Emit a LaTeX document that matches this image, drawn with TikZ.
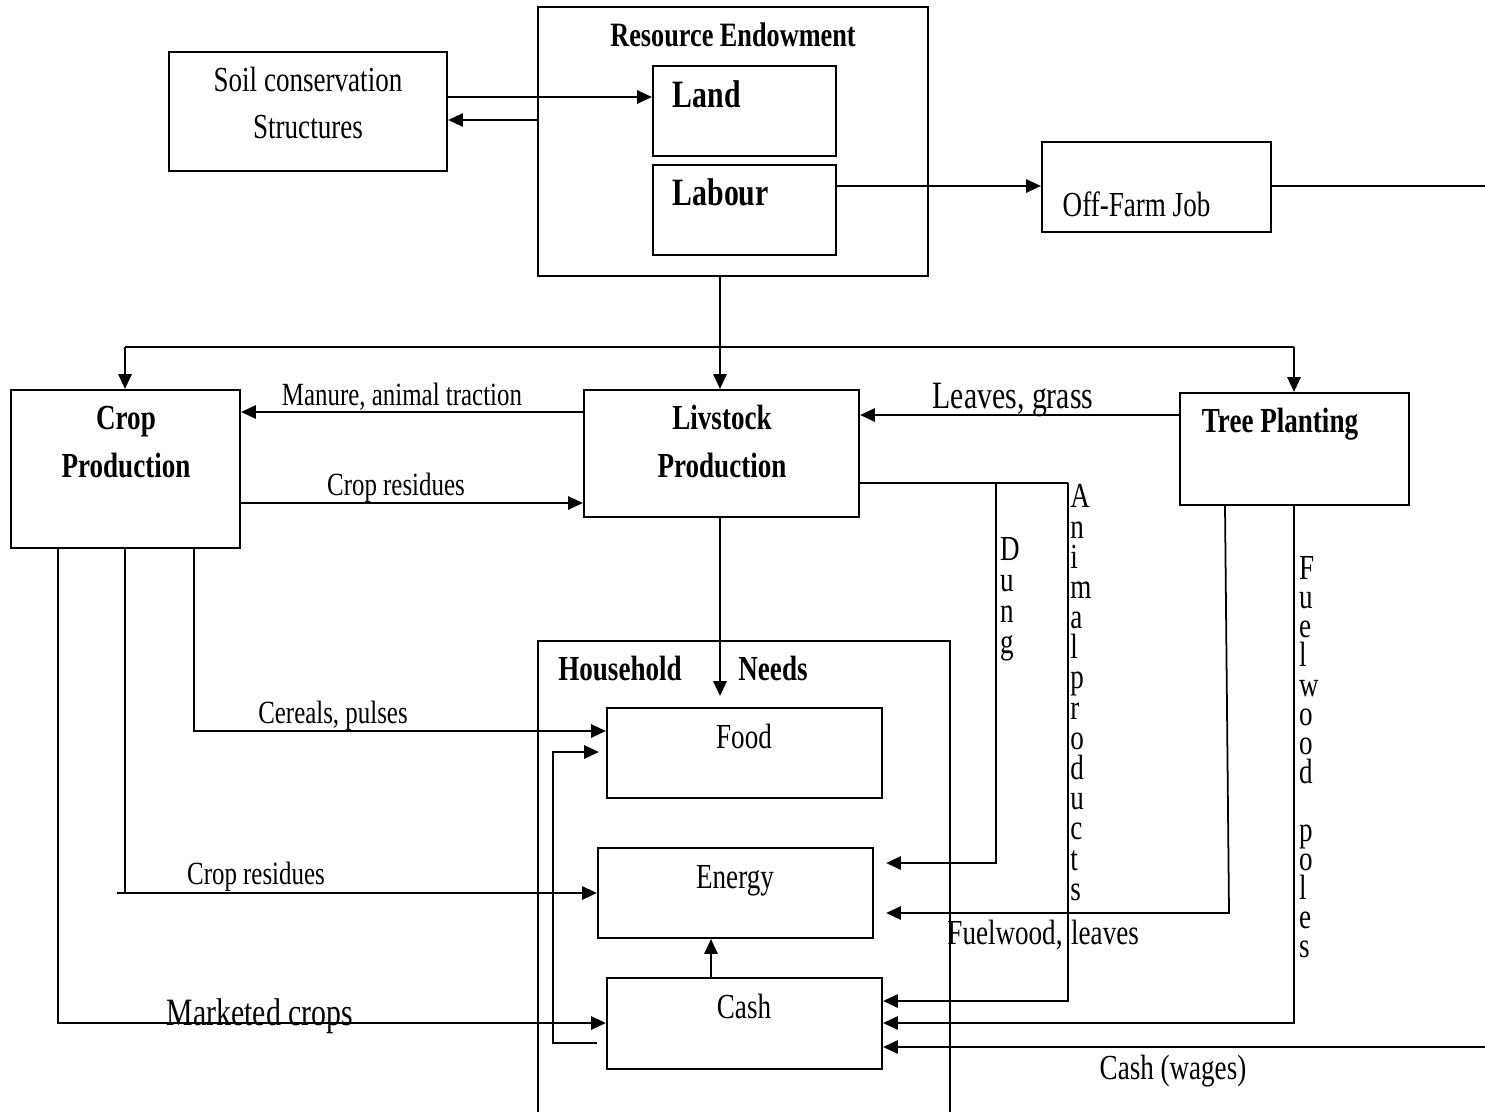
\documentclass[tikz,border=0pt]{standalone}
\usepackage{fontspec}
\setmainfont{Liberation Serif}[FakeStretch=0.77]
\usetikzlibrary{arrows.meta}
\begin{document}
\begin{tikzpicture}[x=0.01cm,y=-0.01cm,
  box/.style={draw,line width=0.6pt,inner sep=0pt},
  arr/.style={line width=0.5pt,-{Triangle[length=4.2pt,width=3.8pt]}},
  ln/.style={line width=0.5pt},
  lab/.style={inner sep=0pt,text height=1.5ex,text depth=0pt,font=\fontsize{10}{12}\selectfont},
  slab/.style={lab,font=\fontsize{9.2}{11}\selectfont},
  blab/.style={lab,font=\fontsize{11}{13}\selectfont},
  bold/.style={lab,font=\fontsize{10}{12}\selectfont\bfseries},
  bbold/.style={lab,font=\fontsize{11}{13}\selectfont\bfseries},
  vert/.style={inner sep=0pt,align=left,anchor=north},
]
\useasboundingbox (0,0) rectangle (1485,1112);

% boxes
\node[box,minimum width=2.78cm,minimum height=1.19cm] (soil) at (308,111.5) {};
\node[box,minimum width=3.90cm,minimum height=2.69cm] (res) at (733,141.5) {};
\node[box,minimum width=1.83cm,minimum height=0.90cm] (land) at (744.5,111) {};
\node[box,minimum width=1.83cm,minimum height=0.90cm] (labour) at (744.5,210) {};
\node[box,minimum width=2.29cm,minimum height=0.90cm] (off) at (1156.5,187) {};
\node[box,minimum width=2.29cm,minimum height=1.58cm] (crop) at (125.5,469) {};
\node[box,minimum width=2.75cm,minimum height=1.27cm] (live) at (721.5,453.5) {};
\node[box,minimum width=2.29cm,minimum height=1.12cm] (tree) at (1294.5,449) {};
\node[box,minimum width=2.75cm,minimum height=0.90cm] (food) at (744.5,753) {};
\node[box,minimum width=2.75cm,minimum height=0.90cm] (energy) at (735.5,893) {};
\node[box,minimum width=2.75cm,minimum height=0.91cm] (cash) at (744.5,1023.5) {};
% household needs frame (open at bottom)
\coordinate (hhBL) at (538,1112);
\coordinate (hhTL) at (538,641);
\coordinate (hhTR) at (950,641);
\coordinate (hhBR) at (950,1112);
\draw[line width=0.6pt] (hhBL) -- (hhTL) -- (hhTR) -- (hhBR);

% box texts
\node[lab] (tSoil1) at (308,79) {Soil conservation};
\node[lab] (tSoil2) at (308,126) {Structures};
\node[bold,font=\fontsize{9.7}{12}\selectfont\bfseries] (tRes) at (733,34) {Resource Endowment};
\node[bbold,anchor=west] (tLand) at (672,95) {Land};
\node[bbold,anchor=west] (tLabour) at (672,193) {Labour};
\node[lab,anchor=west] (tOff) at (1062,204) {Off-Farm Job};
\node[bold] (tCrop1) at (126,417) {Crop};
\node[bold] (tCrop2) at (126,465) {Production};
\node[bold] (tLive1) at (722,417) {Livstock};
\node[bold] (tLive2) at (722,465) {Production};
\node[bold] (tTree) at (1280,420) {Tree Planting};
\node[bold] (tHH1) at (620,668) {Household};
\node[bold] (tHH2) at (773,668) {Needs};
\node[lab] (tFood) at (744,736) {Food};
\node[lab] (tEnergy) at (735,876) {Energy};
\node[lab] (tCash) at (744,1006) {Cash};

% connectors
\draw[arr] (soil.east |- 0,97) -- (land.west |- 0,97);
\draw[arr] (res.west |- 0,120) -- (soil.east |- 0,120);
\draw[arr] (labour.east |- 0,186) -- (off.west |- 0,186);
\coordinate (edgeA) at (1485,186);
\draw[ln] (off.east |- edgeA) -- (edgeA);

\draw[arr] (res.south -| 720,0) -- (live.north -| 720,0);
\coordinate (splitL) at (125,347);
\coordinate (splitR) at (1294,347);
\draw[ln] (splitL) -- (splitR);
\draw[arr] (splitL) -- (crop.north -| splitL);
\draw[arr] (splitR) -- (tree.north -| splitR);

\draw[arr] (live.west |- 0,412) -- (crop.east |- 0,412);
\node[slab] (lManure) at (402,393) {Manure, animal traction};
\draw[arr] (crop.east |- 0,503) -- (live.west |- 0,503);
\node[slab] (lRes1) at (396,483) {Crop residues};
\draw[arr] (tree.west |- 0,415) -- (live.east |- 0,415);
\node[blab] (lLeaves) at (1013,396) {Leaves, grass};

\draw[arr,shorten >=0.11cm] (live.south -| 720,0) -- (food.north -| 720,0);

% dung & animal products
\coordinate (apTop) at (1068,483);
\coordinate (dungTop) at (996,483);
\coordinate (dungBot) at (996,863);
\coordinate (apBot) at (1068,1001);
\draw[ln] (live.east |- apTop) -- (apTop);
\draw[arr,shorten >=0.12cm] (dungTop) -- (dungBot) -- (energy.east |- dungBot);
\draw[arr] (apTop) -- (apBot) -- (cash.east |- apBot);
\node[vert,font=\fontsize{10}{8.75}\selectfont] (lDung) at (1010,537) {D\\u\\n\\g};
\node[vert,font=\fontsize{10}{8.58}\selectfont] (lAP) at (1081,484) {A\\n\\i\\m\\a\\l\\p\\r\\o\\d\\u\\c\\t\\s};

% tree planting outputs
\coordinate (fwBot) at (1229,913);
\draw[arr,shorten >=0.12cm] (tree.south -| 1225,0) -- (fwBot) -- (energy.east |- fwBot);
\node[lab] (lFw1) at (1005,932) {Fuelwood,};
\node[lab] (lFw2) at (1105,932) {leaves};
\coordinate (poleBot) at (1294,1023);
\draw[arr] (tree.south -| poleBot) -- (poleBot) -- (cash.east |- poleBot);
\node[vert,font=\fontsize{10}{8.27}\selectfont] (lPoles) at (1309,556) {F\\u\\e\\l\\w\\o\\o\\d\\ \\p\\o\\l\\e\\s};

% wages
\coordinate (edgeB) at (1485,1047);
\draw[arr] (edgeB) -- (cash.east |- edgeB);
\node[lab] (lWages) at (1173,1067) {Cash (wages)};

% crop outputs
\coordinate (cpBend) at (194,731);
\draw[arr] (crop.south -| cpBend) -- (cpBend) -- (food.west |- cpBend);
\node[slab] (lCereals) at (333,711) {Cereals, pulses};
\coordinate (crBend) at (125,893);
\coordinate (crStub) at (117,893);
\draw[ln] (crop.south -| crBend) -- (crBend);
\draw[arr] (crStub) -- (energy.west |- crStub);
\node[slab] (lRes2) at (256,872) {Crop residues};
\coordinate (mcBend) at (58,1023);
\draw[arr] (crop.south -| mcBend) -- (mcBend) -- (cash.west |- mcBend);
\node[blab] (lMarket) at (260,1013) {Marketed crops};

% cash loops
\coordinate (loopA) at (553,1043);
\coordinate (loopB) at (553,752);
\draw[arr,shorten <=0.09cm,shorten >=0.07cm] (cash.west |- loopA) -- (loopA) -- (loopB) -- (food.west |- loopB);
\draw[arr] (cash.north -| 711,0) -- (energy.south -| 711,0);
\end{tikzpicture}
\end{document}
